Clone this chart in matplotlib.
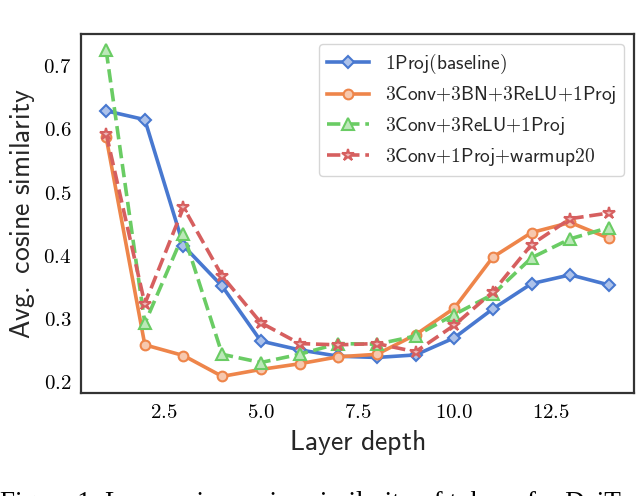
#!/usr/bin/env python3

"""layer-wise cosine similarity plot"""

import matplotlib
matplotlib.use('Agg')
import matplotlib.pyplot as plt
import matplotlib.ticker as ticker
from matplotlib.colors import to_rgb

plt.rcParams['mathtext.fontset'] = 'cm'

# data
layers = list(range(1, 15))
proj_baseline = [0.628, 0.614, 0.414, 0.350, 0.263, 0.249, 0.239,
                 0.237, 0.241, 0.268, 0.314, 0.354, 0.368, 0.352]
conv_bn_relu = [0.586, 0.257, 0.240, 0.207, 0.218, 0.227, 0.238,
                0.242, 0.273, 0.315, 0.396, 0.435, 0.451, 0.426]
conv_relu = [0.724, 0.291, 0.433, 0.242, 0.229, 0.242, 0.259,
             0.258, 0.271, 0.305, 0.337, 0.395, 0.425, 0.443]
conv_warmup = [0.592, 0.322, 0.475, 0.366, 0.292, 0.259, 0.257,
               0.259, 0.246, 0.288, 0.341, 0.416, 0.457, 0.466]

labels = ['1Proj(baseline)', '3Conv+3BN+3ReLU+1Proj',
          '3Conv+3ReLU+1Proj', '3Conv+1Proj+warmup20']


def sf(text):
    """computer modern sans via mathtext (text-mode plus, no binary spacing)"""
    text = text.replace(' ', r'\ ').replace('+', '{+}')
    return r'$\mathsf{' + text + '}$'


def light(c, f=0.55):
    r, g, b = to_rgb(c)
    return (r + (1 - r) * f, g + (1 - g) * f, b + (1 - b) * f)


fig = plt.figure(figsize=(6.4, 4.96), dpi=100)
ax = fig.add_axes([0.1266, 0.2083, 0.864, 0.7232])

series = [
    (proj_baseline, '#4878d0', 'D', '-', 6.5),
    (conv_bn_relu, '#ee854a', 'o', '-', 7),
    (conv_relu, '#6acc64', '^', '--', 8),
    (conv_warmup, '#d65f5f', '*', '--', 9),
]
for (vals, col, mk, ls, ms), lab in zip(series, labels):
    ax.plot(layers, vals, color=col, marker=mk, linestyle=ls, lw=2.6,
            ms=ms, mfc=light(col), mec=col, mew=1.5, label=sf(lab))

#axes
for sp in ax.spines.values():
    sp.set_color('#333333')
    sp.set_linewidth(1.6)
ax.tick_params(length=0, labelsize=15, pad=7)
ax.xaxis.set_major_locator(ticker.MultipleLocator(2.5))
ax.yaxis.set_major_locator(ticker.MultipleLocator(0.1))
ax.xaxis.set_major_formatter(ticker.FuncFormatter(lambda v, p: r'$%.1f$' % v))
ax.yaxis.set_major_formatter(ticker.FuncFormatter(lambda v, p: r'$%.1f$' % v))
ax.set_xlabel(sf('Layer depth'), fontsize=20, color='#262626', labelpad=4)
ax.set_ylabel(sf('Avg. cosine similarity'), fontsize=20, color='#262626', labelpad=4)

leg = ax.legend(loc='upper right', fontsize=14, handlelength=2.2,
                labelspacing=0.45, framealpha=0.8, edgecolor='#cccccc')
for t in leg.get_texts():
    t.set_color('#262626')

#caption of the paper, cut off at the bottom edge like in the source
fig.text(0.0, -0.016, 'Figure 1: Layer-wise cosine similarity of tokens for DeiT',
         family='Liberation Serif', fontsize=19.5, va='center', ha='left')

plt.savefig('out.png', dpi=100)
